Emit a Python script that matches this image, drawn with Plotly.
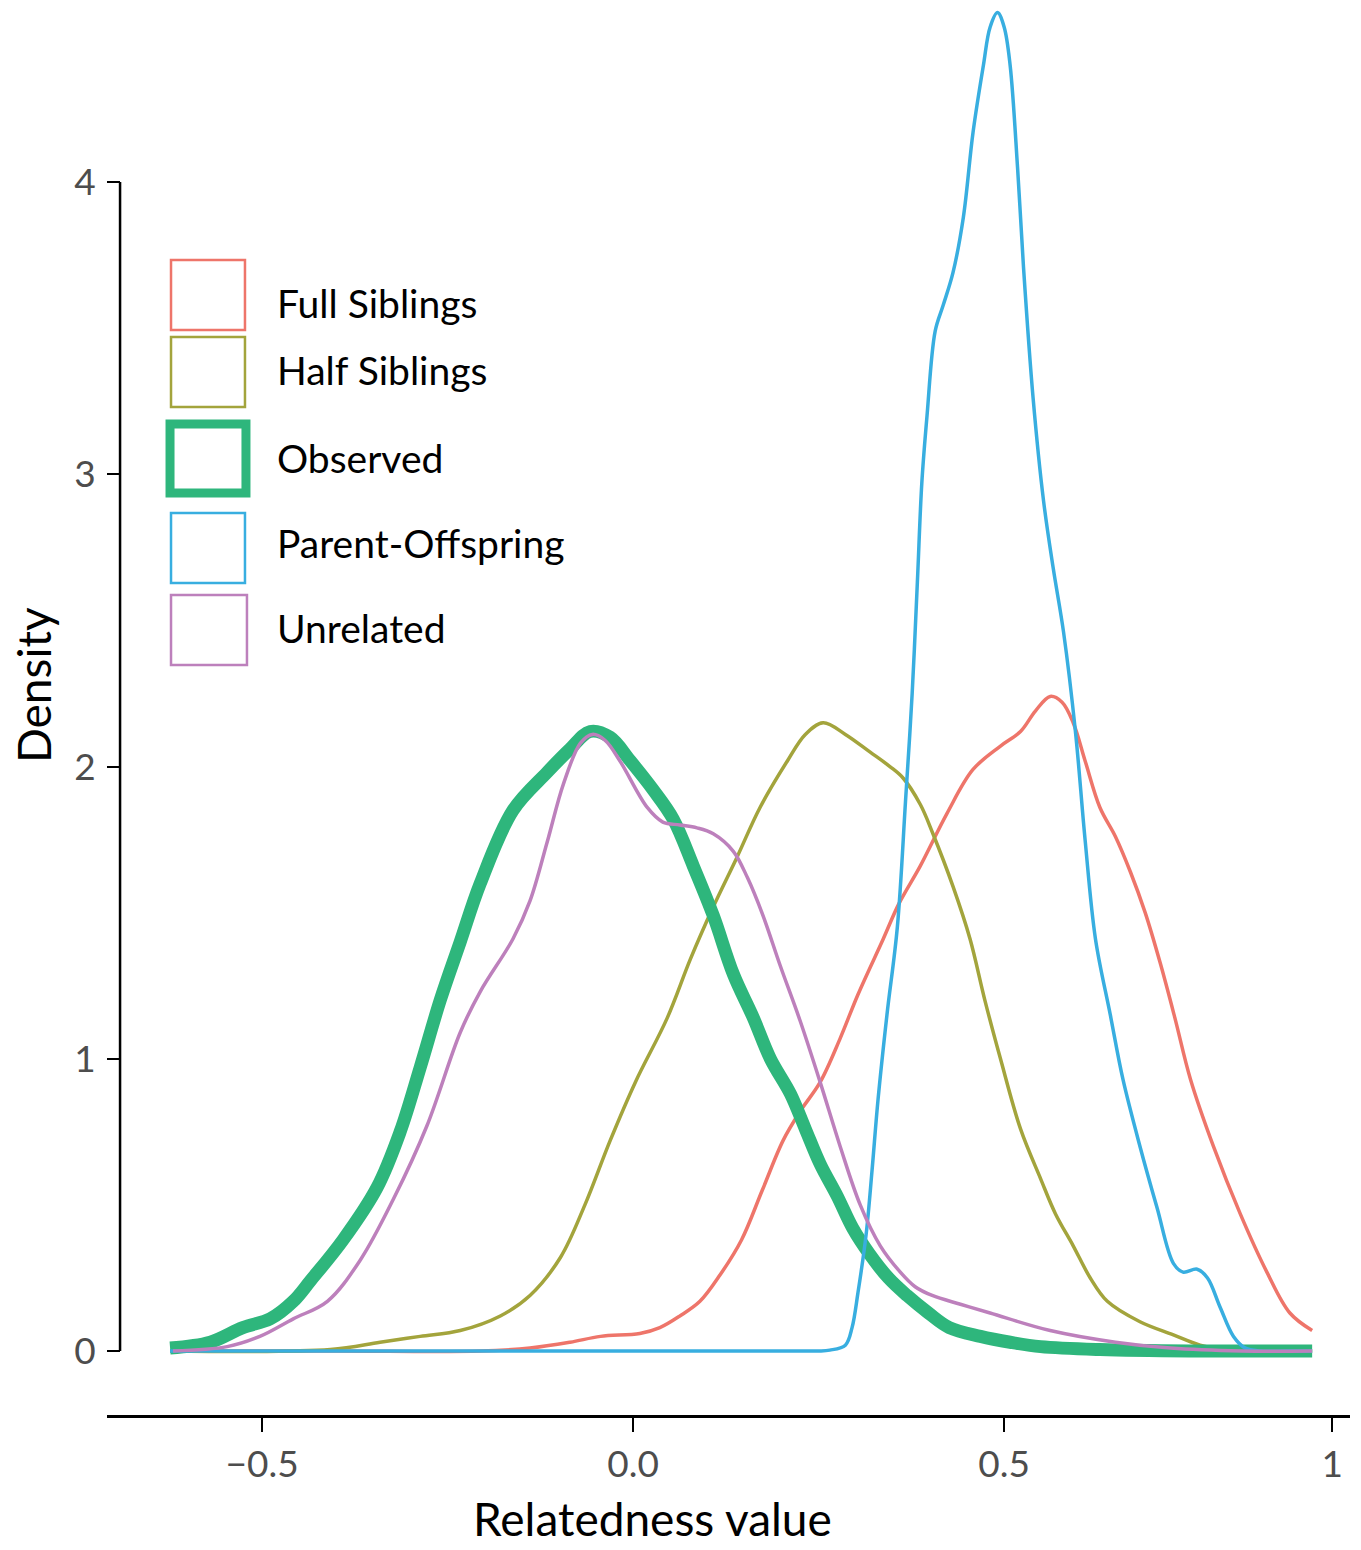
import plotly.graph_objects as go

# ---------------- data ----------------
series_names = ["Full Siblings", "Half Siblings", "Observed", "Parent-Offspring", "Unrelated"]
series_colors = ["#EE756A", "#A3A43C", "#2EB67C", "#38AEE0", "#BD80BC"]

full_x = [-0.624, -0.4, -0.206, -0.139, -0.085, -0.044, 0.009, 0.036, 0.063, 0.090, 0.117,
          0.146, 0.174, 0.202, 0.225, 0.252, 0.279, 0.303, 0.337, 0.358, 0.387,
          0.423, 0.458, 0.495, 0.522, 0.542, 0.562, 0.578, 0.593, 0.609, 0.629,
          0.650, 0.670, 0.690, 0.710, 0.730, 0.751, 0.782, 0.818, 0.854, 0.885, 0.915]
full_y = [0, 0, 0, 0.01, 0.03, 0.05, 0.06, 0.08, 0.12, 0.17, 0.26,
          0.38, 0.55, 0.72, 0.82, 0.92, 1.07, 1.22, 1.41, 1.53, 1.66,
          1.84, 1.99, 2.07, 2.12, 2.19, 2.24, 2.22, 2.15, 2.02, 1.86,
          1.76, 1.64, 1.50, 1.33, 1.14, 0.93, 0.70, 0.47, 0.27, 0.13, 0.07]

half_x = [-0.624, -0.408, -0.341, -0.287, -0.233, -0.179, -0.139, -0.098, -0.065, -0.031,
          0.003, 0.046, 0.077, 0.108, 0.140, 0.171, 0.208, 0.232, 0.256, 0.286,
          0.319, 0.346, 0.364, 0.387, 0.404, 0.431, 0.454, 0.474, 0.495, 0.522,
          0.549, 0.569, 0.593, 0.616, 0.639, 0.683, 0.728, 0.764, 0.805, 0.86, 0.915]
half_y = [0, 0.005, 0.03, 0.05, 0.07, 0.12, 0.19, 0.32, 0.50, 0.72,
          0.92, 1.14, 1.34, 1.52, 1.69, 1.86, 2.02, 2.11, 2.15, 2.11,
          2.05, 2.00, 1.96, 1.87, 1.77, 1.59, 1.41, 1.20, 1.00, 0.76,
          0.59, 0.47, 0.36, 0.25, 0.17, 0.10, 0.055, 0.02, 0.0, 0.0, 0.0]

obs_x = [-0.624, -0.570, -0.526, -0.489, -0.458, -0.435, -0.391, -0.345, -0.314, -0.287,
         -0.260, -0.233, -0.206, -0.162, -0.116, -0.085, -0.058, -0.031, -0.004, 0.027,
         0.054, 0.081, 0.108, 0.135, 0.162, 0.185, 0.212, 0.232, 0.252, 0.275,
         0.296, 0.319, 0.344, 0.369, 0.398, 0.426, 0.468, 0.508, 0.549, 0.629, 0.75, 0.83, 0.915]
obs_y = [0.01, 0.03, 0.08, 0.11, 0.17, 0.24, 0.38, 0.56, 0.75, 0.97,
         1.20, 1.40, 1.60, 1.85, 1.98, 2.06, 2.12, 2.10, 2.02, 1.92,
         1.82, 1.66, 1.49, 1.29, 1.14, 1.00, 0.88, 0.76, 0.64, 0.53,
         0.42, 0.33, 0.25, 0.19, 0.13, 0.08, 0.05, 0.03, 0.015, 0.005, 0.0, 0.0, 0.0]

par_x = [-0.624, -0.3, 0.0, 0.15, 0.22, 0.25, 0.265, 0.286, 0.295, 0.303, 0.314, 0.322, 0.330, 0.342, 0.356,
         0.367, 0.376, 0.383, 0.389, 0.396, 0.407, 0.418, 0.431, 0.445, 0.458,
         0.472, 0.481, 0.491, 0.500, 0.508, 0.518, 0.526, 0.539, 0.553, 0.566,
         0.580, 0.596, 0.609, 0.623, 0.643, 0.660, 0.683, 0.706, 0.728, 0.741,
         0.760, 0.774, 0.791, 0.809, 0.825, 0.845, 0.88, 0.915]
par_y = [0, 0, 0, 0, 0, 0, 0.003, 0.02, 0.08, 0.20, 0.40, 0.62, 0.86, 1.15, 1.45,
         1.88, 2.25, 2.63, 2.97, 3.20, 3.49, 3.58, 3.69, 3.88, 4.17,
         4.40, 4.53, 4.58, 4.53, 4.40, 4.05, 3.71, 3.26, 2.91, 2.68,
         2.46, 2.12, 1.75, 1.41, 1.15, 0.93, 0.70, 0.49, 0.30, 0.27,
         0.28, 0.25, 0.15, 0.05, 0.01, 0.0, 0.0, 0.0]

unrel_x = [-0.620, -0.547, -0.503, -0.458, -0.412, -0.368, -0.323, -0.278, -0.233, -0.206,
           -0.162, -0.139, -0.116, -0.094, -0.071, -0.055, -0.038, -0.018, 0.019, 0.040,
           0.063, 0.086, 0.108, 0.135, 0.154, 0.175, 0.198, 0.225, 0.252, 0.279,
           0.306, 0.333, 0.360, 0.380, 0.403, 0.441, 0.481, 0.562, 0.650, 0.724, 0.82, 0.915]
unrel_y = [0.0, 0.015, 0.05, 0.11, 0.17, 0.31, 0.52, 0.77, 1.09, 1.23,
           1.41, 1.54, 1.74, 1.94, 2.08, 2.11, 2.09, 2.02, 1.86, 1.81,
           1.80, 1.79, 1.77, 1.71, 1.62, 1.49, 1.32, 1.13, 0.92, 0.70,
           0.50, 0.36, 0.27, 0.22, 0.19, 0.16, 0.13, 0.07, 0.03, 0.01, 0.0, 0.0]

series_x = [full_x, half_x, obs_x, par_x, unrel_x]
series_y = [full_y, half_y, obs_y, par_y, unrel_y]
series_widths = [3.5, 3.5, 13, 3.5, 3.5]

x_tickvals = [-0.5, 0.0, 0.5, 0.942]
x_ticktext = ["\u22120.5", "0.0", "0.5", "1"]
y_tickvals = [0, 1, 2, 3, 4]
y_ticktext = ["0", "1", "2", "3", "4"]

# ---------------- figure ----------------
FONT = "Lato"
fig = go.Figure()
for name, xs, ys, col, w in zip(series_names, series_x, series_y, series_colors, series_widths):
    fig.add_trace(go.Scatter(x=xs, y=ys, mode="lines", name=name,
                             line=dict(color=col, width=w, shape="spline", smoothing=1.0),
                             showlegend=False))

# y-axis line from 0 to 4 only (separated axis look)
yaxis_pos = 0.0105
fig.add_shape(type="line", xref="paper", yref="y", x0=yaxis_pos, x1=yaxis_pos,
              y0=0, y1=4, line=dict(color="black", width=2.5))

# manual legend with large outlined boxes
leg_box_x0 = [0.0515, 0.0515, 0.0507, 0.0515, 0.0515]
leg_box_x1 = [0.1110, 0.1110, 0.1118, 0.1110, 0.1126]
leg_box_y0 = [0.7695, 0.7149, 0.6539, 0.5901, 0.5319]
leg_box_y1 = [0.8191, 0.7645, 0.7028, 0.6397, 0.5816]
leg_text_y = [0.7887, 0.7411, 0.6787, 0.6184, 0.5582]
leg_line_w = [2.5, 2.5, 9, 2.5, 2.5]
for i, name in enumerate(series_names):
    fig.add_shape(type="rect", xref="paper", yref="paper",
                  x0=leg_box_x0[i], x1=leg_box_x1[i], y0=leg_box_y0[i], y1=leg_box_y1[i],
                  line=dict(color=series_colors[i], width=leg_line_w[i]),
                  fillcolor="rgba(0,0,0,0)")
    fig.add_annotation(xref="paper", yref="paper", x=0.1352, y=leg_text_y[i],
                       text=name, showarrow=False, xanchor="left", yanchor="middle",
                       font=dict(family=FONT, size=39, color="black"))

# axis titles
fig.add_annotation(xref="paper", yref="paper", x=0.439, y=-0.0735, text="Relatedness value",
                   showarrow=False, xanchor="center", yanchor="middle",
                   font=dict(family=FONT, size=46, color="black"))
fig.add_annotation(xref="paper", yref="paper", x=-0.0595, y=0.5177, text="Density",
                   textangle=-90, showarrow=False, xanchor="center", yanchor="middle",
                   font=dict(family=FONT, size=46, color="black"))

fig.update_layout(
    width=1361, height=1550,
    margin=dict(l=107, r=11, t=5, b=135),
    paper_bgcolor="white", plot_bgcolor="white",
    xaxis=dict(range=[-0.709, 0.966], showgrid=False, zeroline=False,
               showline=True, linecolor="black", linewidth=2.5,
               ticks="outside", ticklen=14, tickwidth=1.5, tickcolor="black",
               tickvals=x_tickvals, ticktext=x_ticktext,
               tickfont=dict(family=FONT, size=37, color="#4d4d4d"),
               ticklabelstandoff=1),
    yaxis=dict(range=[-0.219, 4.606], showgrid=False, zeroline=False,
               showline=False, anchor="free", position=yaxis_pos,
               ticks="outside", ticklen=13, tickwidth=1.5, tickcolor="black",
               tickvals=y_tickvals, ticktext=y_ticktext,
               tickfont=dict(family=FONT, size=37, color="#4d4d4d"),
               ticklabelstandoff=4),
)

fig.write_html("out.html", config={"displayModeBar": False},
               post_script="document.body.style.margin='0px';document.body.style.overflow='hidden';")
